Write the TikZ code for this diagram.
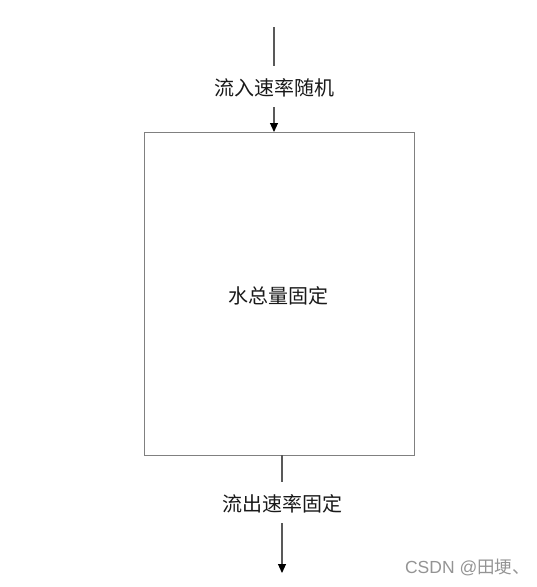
\documentclass[tikz,border=0pt]{standalone}
\usepackage{fontspec}
\newfontfamily\cjk{Noto Sans CJK SC}
\usetikzlibrary{arrows.meta}
\begin{document}
\begin{tikzpicture}[x=1pt,y=-1pt,
  lbl/.style={font=\cjk\fontsize{20}{20}\selectfont, inner sep=0pt, text=black!90},
  flow/.style={draw=black!65, line width=1.1pt},
  arr/.style={flow, -{Triangle[length=9pt,width=8pt,color=black]}},
  tank/.style={draw=black!50, line width=1pt}]
\useasboundingbox (0,0) rectangle (537,587);
\draw[tank] (144,132) rectangle (414,455);
\node[lbl] (water) at (278,296) {水总量固定};
\coordinate (tankin) at (274,132);
\coordinate (tankout) at (282,455);
\coordinate (src) at (274,27);
\coordinate (sink) at (282,573);
\node[lbl] (inlbl) at (274,88) {流入速率随机};
\node[lbl] (outlbl) at (282,504) {流出速率固定};
\coordinate (inA) at (274,66);
\coordinate (inB) at (274,107);
\coordinate (outA) at (282,482);
\coordinate (outB) at (282,523);
\draw[flow] (src) -- (inA);
\draw[arr] (inB) -- (tankin);
\draw[flow] (tankout) -- (outA);
\draw[arr] (outB) -- (sink);
\node[font=\fontspec{Liberation Sans}\fontsize{17.5}{17.5}\selectfont, text=black!42, inner sep=0pt, anchor=east] (wm) at (530,567) {CSDN @{\cjk 田埂、}};
\end{tikzpicture}
\end{document}
